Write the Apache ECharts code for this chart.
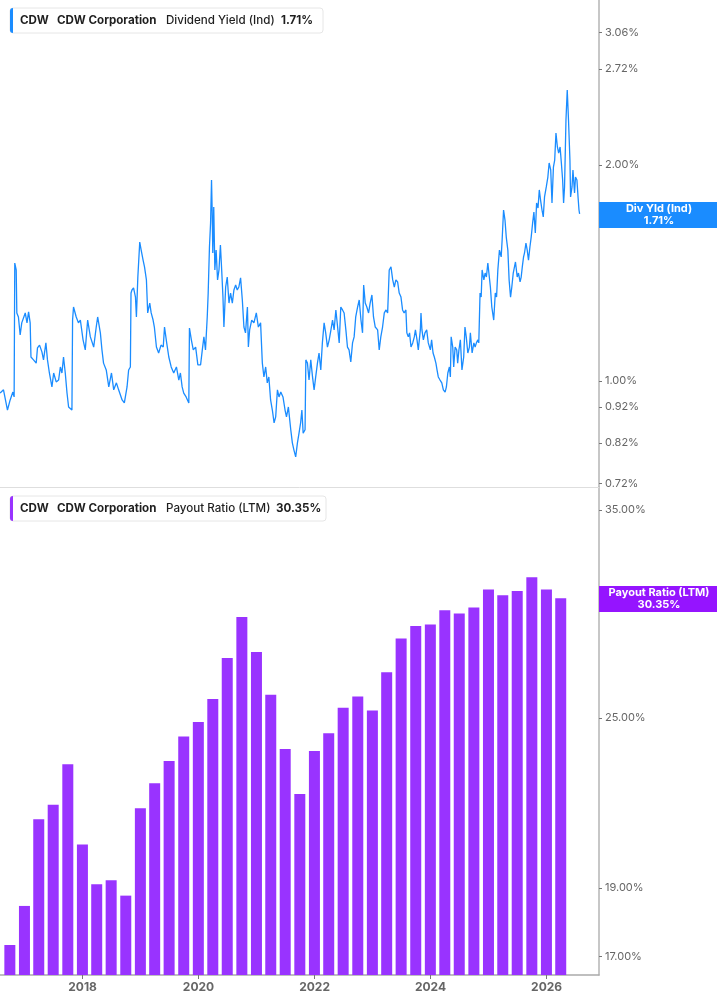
<!DOCTYPE html>
<html>
<head>
<meta charset="utf-8">
<title>CDW Dividend Yield / Payout Ratio</title>
<script src="https://cdn.jsdelivr.net/npm/echarts@6.0.0/dist/echarts.min.js"></script>
<style>
    html, body { margin: 0; padding: 0; background: #fff; }
    #chart { width: 717px; height: 1005px; }
</style>
</head>
<body>
<div id="chart"></div>
<script>
// dividend yield (Ind), %
var divDates = [
    '2016-07-31','2016-08-21','2016-09-15','2016-10-02','2016-10-19','2016-10-27','2016-10-31','2016-11-09','2016-11-13','2016-11-23','2016-12-04','2016-12-14',
    '2017-01-05','2017-01-16','2017-01-26','2017-02-05','2017-02-10','2017-02-26','2017-03-15','2017-03-23','2017-04-05','2017-04-20','2017-04-30','2017-05-15','2017-05-25','2017-06-06','2017-06-22','2017-07-03','2017-07-19','2017-08-03','2017-08-14','2017-08-24','2017-09-03','2017-09-14','2017-09-25','2017-10-05','2017-10-15','2017-10-26','2017-10-30','2017-11-05','2017-11-22','2017-12-06','2017-12-18',
    '2018-01-04','2018-01-18','2018-02-02','2018-02-19','2018-03-12','2018-03-28','2018-04-06','2018-04-23','2018-05-03','2018-05-13','2018-05-30','2018-06-15','2018-07-02','2018-07-16','2018-08-02','2018-08-16','2018-09-07','2018-09-21','2018-10-08','2018-10-18','2018-10-29','2018-11-02','2018-11-08','2018-11-18','2018-11-30','2018-12-06','2018-12-15','2018-12-27','2019-01-05',
    '2019-01-17','2019-01-26','2019-02-07','2019-02-15','2019-02-28','2019-03-09','2019-03-21','2019-03-29','2019-04-11','2019-04-25','2019-05-10','2019-05-24','2019-06-01','2019-06-14','2019-06-28','2019-07-13','2019-07-29','2019-08-15','2019-08-30','2019-09-09','2019-09-20','2019-09-30','2019-10-15','2019-11-01','2019-11-05','2019-11-17','2019-11-29','2019-12-14','2019-12-28',
    '2020-01-14','2020-01-25','2020-02-04','2020-02-14','2020-02-25','2020-03-02','2020-03-10','2020-03-17','2020-03-23','2020-03-27','2020-03-31','2020-04-06','2020-04-13','2020-04-21','2020-04-30','2020-05-09','2020-05-18','2020-05-26','2020-06-03','2020-06-09','2020-06-20','2020-06-30','2020-07-11','2020-07-21','2020-08-01','2020-08-11','2020-08-22','2020-09-01','2020-09-11','2020-09-22','2020-10-03','2020-10-13','2020-10-23','2020-11-04','2020-11-10','2020-11-18','2020-12-01','2020-12-15','2020-12-30',
    '2021-01-12','2021-01-26','2021-02-06','2021-02-16','2021-02-27','2021-03-09','2021-03-19','2021-03-30','2021-04-10','2021-04-21','2021-05-01','2021-05-12','2021-05-22','2021-06-02','2021-06-16','2021-06-29','2021-07-08','2021-07-20','2021-08-04','2021-08-14','2021-08-24','2021-09-04','2021-09-15','2021-09-25','2021-10-05','2021-10-13','2021-10-21','2021-11-02','2021-11-07','2021-11-17','2021-11-27','2021-12-08','2021-12-19','2021-12-29','2022-01-08',
    '2022-01-19','2022-01-29','2022-02-09','2022-02-19','2022-03-02','2022-03-12','2022-03-23','2022-04-03','2022-04-14','2022-04-24','2022-05-04','2022-05-15','2022-05-26','2022-06-05','2022-06-15','2022-06-26','2022-07-06','2022-07-17','2022-07-27','2022-08-06','2022-08-17','2022-08-28','2022-09-07','2022-09-17','2022-09-29','2022-10-09','2022-10-20','2022-10-30','2022-11-06','2022-11-16','2022-11-26','2022-12-07','2022-12-17','2022-12-28','2023-01-07',
    '2023-01-18','2023-02-02','2023-02-12','2023-02-22','2023-03-05','2023-03-16','2023-03-27','2023-04-06','2023-04-16','2023-04-27','2023-05-08','2023-05-18','2023-05-28','2023-06-08','2023-06-18','2023-06-29','2023-07-09','2023-07-19','2023-07-30','2023-08-05','2023-08-14','2023-08-22','2023-08-31','2023-09-11','2023-09-21','2023-09-28','2023-10-08','2023-10-16','2023-10-29','2023-11-02','2023-11-08','2023-11-17','2023-11-27','2023-12-08','2023-12-18','2023-12-31','2024-01-08',
    '2024-01-17','2024-01-25','2024-02-04','2024-02-11','2024-02-19','2024-03-01','2024-03-12','2024-03-22','2024-04-02','2024-04-10','2024-04-19','2024-04-29','2024-05-05','2024-05-10','2024-05-20','2024-05-26','2024-06-04','2024-06-14','2024-06-20','2024-06-28','2024-07-07','2024-07-17','2024-07-28','2024-08-05','2024-08-13','2024-08-23','2024-09-02','2024-09-08','2024-09-19','2024-09-30','2024-10-08','2024-10-16','2024-10-25','2024-10-31','2024-11-08','2024-11-15','2024-11-21','2024-12-02','2024-12-10','2024-12-18','2024-12-27','2025-01-04','2025-01-12',
    '2025-01-21','2025-02-02','2025-02-12','2025-02-20','2025-02-28','2025-03-10','2025-03-21','2025-03-27','2025-04-05','2025-04-14','2025-04-22','2025-05-02','2025-05-10','2025-05-19','2025-05-27','2025-06-05','2025-06-13','2025-06-19','2025-06-30','2025-07-08','2025-07-18','2025-07-25','2025-08-01','2025-08-09','2025-08-15','2025-08-24','2025-09-01','2025-09-09','2025-09-18','2025-09-26','2025-10-05','2025-10-13','2025-10-22','2025-10-30','2025-11-08','2025-11-16','2025-11-24','2025-12-03','2025-12-11','2025-12-19','2025-12-30','2026-01-09','2026-01-17',
    '2026-01-27','2026-02-04','2026-02-13','2026-02-21','2026-03-01','2026-03-10','2026-03-18','2026-03-27','2026-04-04','2026-04-12','2026-04-18','2026-04-24','2026-05-03','2026-05-11','2026-05-19','2026-05-28','2026-06-01','2026-06-10','2026-06-16','2026-06-26','2026-07-02','2026-07-11','2026-07-18','2026-07-24','2026-07-28'
];
var divYield = [
    0.962,0.972,0.911,0.941,0.965,0.950,1.460,1.428,1.244,1.228,1.159,1.205,
    1.244,1.205,1.248,1.205,1.080,1.070,1.059,1.112,1.122,1.098,1.070,1.130,1.070,1.026,0.981,1.026,0.997,1.003,1.046,1.026,1.080,1.026,0.962,0.920,0.917,0.911,1.216,1.268,1.228,1.205,1.216,
    1.141,1.105,1.216,1.152,1.115,1.189,1.228,1.167,1.105,1.059,1.036,0.981,1.026,0.972,0.994,0.972,0.941,0.932,0.981,1.036,1.046,1.326,1.339,1.348,1.309,1.228,1.396,1.562,1.522,
    1.474,1.442,1.383,1.244,1.284,1.244,1.216,1.189,1.115,1.094,1.122,1.115,1.189,1.133,1.080,1.046,1.026,1.046,1.003,1.026,0.981,0.962,0.950,0.932,1.185,1.141,1.105,1.115,1.053,
    1.053,1.105,1.152,1.105,1.228,1.326,1.537,1.660,1.906,1.731,1.508,1.748,1.428,1.522,1.383,1.428,1.547,1.428,1.309,1.189,1.352,1.396,1.284,1.326,1.284,1.339,1.361,1.339,1.352,1.392,1.297,1.189,1.167,1.268,1.115,1.178,1.216,1.205,1.244,
    1.189,1.205,1.059,1.013,1.046,0.994,1.013,0.941,0.911,0.874,0.891,0.972,0.950,0.965,0.950,0.911,0.891,0.920,0.855,0.820,0.801,0.784,0.820,0.846,0.874,0.911,0.846,0.855,1.070,1.059,1.003,1.070,1.013,0.972,1.013,
    1.059,1.094,1.036,1.130,1.205,1.167,1.115,1.141,1.178,1.216,1.178,1.256,1.189,1.130,1.268,1.256,1.244,1.178,1.115,1.105,1.063,1.130,1.152,1.228,1.268,1.297,1.216,1.167,1.361,1.284,1.268,1.244,1.284,1.318,1.228,
    1.189,1.178,1.105,1.152,1.189,1.244,1.256,1.244,1.428,1.442,1.383,1.352,1.383,1.374,1.326,1.309,1.256,1.244,1.256,1.167,1.152,1.167,1.115,1.130,1.152,1.178,1.141,1.105,1.178,1.244,1.178,1.141,1.167,1.178,1.130,1.105,1.141,
    1.094,1.080,1.059,1.036,1.013,1.003,0.994,0.972,0.965,0.981,1.026,1.046,1.013,1.152,1.115,1.046,1.115,1.105,1.059,1.105,1.141,1.036,1.080,1.189,1.152,1.094,1.115,1.167,1.094,1.130,1.115,1.130,1.141,1.130,1.326,1.309,1.428,1.383,1.414,1.396,1.460,1.465,1.352,
    1.268,1.216,1.326,1.309,1.428,1.522,1.489,1.572,1.731,1.676,1.587,1.522,1.383,1.309,1.352,1.414,1.414,1.465,1.396,1.414,1.374,1.396,1.442,1.489,1.508,1.557,1.522,1.474,1.537,1.587,1.660,1.720,1.608,1.770,1.742,1.846,1.787,1.731,1.693,1.805,1.864,1.924,2.013,
    1.968,1.770,1.987,2.032,2.216,2.119,2.078,2.119,2.013,1.906,1.770,1.864,2.311,2.544,2.311,2.032,1.805,1.864,1.968,1.828,1.924,1.906,1.805,1.731,1.71
];

// payout ratio (LTM), %, quarter ends
var payoutDates = [
    '2016-09-30','2016-12-31','2017-03-31','2017-06-30','2017-09-30','2017-12-31',
    '2018-03-31','2018-06-30','2018-09-30','2018-12-31','2019-03-31','2019-06-30','2019-09-30','2019-12-31',
    '2020-03-31','2020-06-30','2020-09-30','2020-12-31','2021-03-31','2021-06-30','2021-09-30','2021-12-31',
    '2022-03-31','2022-06-30','2022-09-30','2022-12-31','2023-03-31','2023-06-30','2023-09-30','2023-12-31',
    '2024-03-31','2024-06-30','2024-09-30','2024-12-31','2025-03-31','2025-06-30','2025-09-30','2025-12-31',
    '2026-03-31'
];
var payoutRatio = [
    17.32, 18.45, 21.23, 21.73, 23.20, 20.38,
    19.11, 19.23, 18.76, 21.61, 22.50, 23.32, 24.27, 24.84,
    25.78, 27.55, 29.44, 27.82, 25.96, 23.78, 22.11, 23.70,
    24.39, 25.42, 25.89, 25.31, 26.92, 28.44, 29.02, 29.09,
    29.77, 29.61, 29.90, 30.78, 30.50, 30.71, 31.39, 30.78,
    30.35
];

// axis tick labels
var yieldTicks = [3.06, 2.72, 2.00, 1.00, 0.92, 0.82, 0.72];
var payoutTicks = [35, 30, 25, 19, 17];
var yearTicks = [2018, 2020, 2022, 2024, 2026];

var BLUE = '#1a8cff';
var PURPLE = '#9933ff';
var FONT = 'Inter, "Noto Sans", sans-serif';

function log10(v) { return Math.log(v) / Math.LN10; }
function pctLabel(v) { return Math.pow(10, v).toFixed(2) + '%'; }
// 'YYYY-MM-DD' -> UTC ms
function ts(s) { return Date.parse(s + 'T00:00:00Z'); }

var yieldTickVals = yieldTicks.map(log10);
var payoutTickVals = payoutTicks.map(log10);
var yearVals = yearTicks.map(function (y) { return Date.UTC(y, 0, 1); });

var xMin = ts('2016-07-30'), xMax = ts('2026-11-27');

var myChart = echarts.init(document.getElementById('chart'), null, { renderer: 'canvas' });

function legendBox(y, w, color, items) {
    var els = [
        { type: 'rect', z: 100, shape: { x: 10, y: y, width: w, height: 25, r: 3 }, style: { fill: '#fff', stroke: '#e6e6e6', lineWidth: 1 } },
        { type: 'rect', z: 101, shape: { x: 10, y: y, width: 3, height: 25, r: [3, 0, 0, 3] }, style: { fill: color } }
    ];
    items.forEach(function (it) {
        els.push({
            type: 'text', z: 102, x: it[0], y: y + 12.5,
            style: { text: it[1], fill: '#1f1f1f', font: it[2] + ' 11.6px ' + FONT, verticalAlign: 'middle' }
        });
    });
    return els;
}

function valueTag(y, color, title, value) {
    return [
        { type: 'rect', z: 100, shape: { x: 599, y: y, width: 118, height: 26 }, style: { fill: color } },
        {
            type: 'text', z: 101, x: 659, y: y + 13,
            style: { text: title + '\n' + value, fill: '#fff', font: 'bold 11px ' + FONT, align: 'center', verticalAlign: 'middle', lineHeight: 12 }
        }
    ];
}

var option = {
    animation: false,
    backgroundColor: '#fff',
    grid: [
        { left: 0, right: 118, top: 0, height: 487 },
        { left: 0, right: 118, top: 487, bottom: 30 }
    ],
    xAxis: [
        {
            type: 'value', gridIndex: 0, min: xMin, max: xMax,
            axisLine: { show: true, onZero: false, lineStyle: { color: '#dedede', width: 1 } },
            axisTick: { show: false }, axisLabel: { show: false }, splitLine: { show: false }
        },
        {
            type: 'value', gridIndex: 1, min: xMin, max: xMax,
            axisLine: { show: true, onZero: false, lineStyle: { color: '#ababab', width: 1.5 } },
            axisTick: { show: true, length: 4, customValues: yearVals, lineStyle: { color: '#777' } },
            axisLabel: {
                customValues: yearVals, color: '#666', fontSize: 12, fontWeight: 'bold', fontFamily: FONT, margin: 6,
                formatter: function (v) { return String(new Date(v).getUTCFullYear()); }
            },
            splitLine: { show: false }
        }
    ],
    yAxis: [
        {
            type: 'value', gridIndex: 0, position: 'right',
            min: log10(0.7116), max: log10(3.396),
            axisLine: { show: true, lineStyle: { color: '#b5b5b5', width: 1.5 } },
            axisTick: { show: true, length: 3, customValues: yieldTickVals, lineStyle: { color: '#777' } },
            axisLabel: { customValues: yieldTickVals, formatter: pctLabel, color: '#666', fontSize: 11, fontFamily: FONT, margin: 6 },
            splitLine: { show: false }
        },
        {
            type: 'value', gridIndex: 1, position: 'right',
            min: log10(16.50), max: log10(36.33),
            axisLine: { show: true, lineStyle: { color: '#b5b5b5', width: 1.5 } },
            axisTick: { show: true, length: 3, customValues: payoutTickVals, lineStyle: { color: '#777' } },
            axisLabel: { customValues: payoutTickVals, formatter: pctLabel, color: '#666', fontSize: 11, fontFamily: FONT, margin: 6 },
            splitLine: { show: false }
        }
    ],
    series: [
        {
            name: 'Dividend Yield (Ind)',
            type: 'line',
            xAxisIndex: 0, yAxisIndex: 0,
            showSymbol: false, symbol: 'none',
            lineStyle: { color: BLUE, width: 1.3 },
            data: divDates.map(function (d, i) { return [ts(d), log10(divYield[i])]; })
        },
        {
            name: 'Payout Ratio (LTM)',
            type: 'bar',
            xAxisIndex: 1, yAxisIndex: 1,
            barWidth: 11,
            clip: true,
            itemStyle: { color: PURPLE },
            data: payoutDates.map(function (d, i) { return [ts(d), log10(payoutRatio[i])]; })
        }
    ],
    graphic: [].concat(
        legendBox(8, 313, BLUE, [
            [20, 'CDW', 'bold'], [57, 'CDW Corporation', 'bold'],
            [166, 'Dividend Yield (Ind)', '500'], [281, '1.71%', 'bold']
        ]),
        legendBox(496, 316, PURPLE, [
            [20, 'CDW', 'bold'], [57, 'CDW Corporation', 'bold'],
            [166, 'Payout Ratio (LTM)', '500'], [276, '30.35%', 'bold']
        ]),
        valueTag(202, BLUE, 'Div Yld (Ind)', '1.71%'),
        valueTag(586, '#9514ff', 'Payout Ratio (LTM)', '30.35%')
    )
};

myChart.setOption(option, true);
</script>
</body>
</html>
